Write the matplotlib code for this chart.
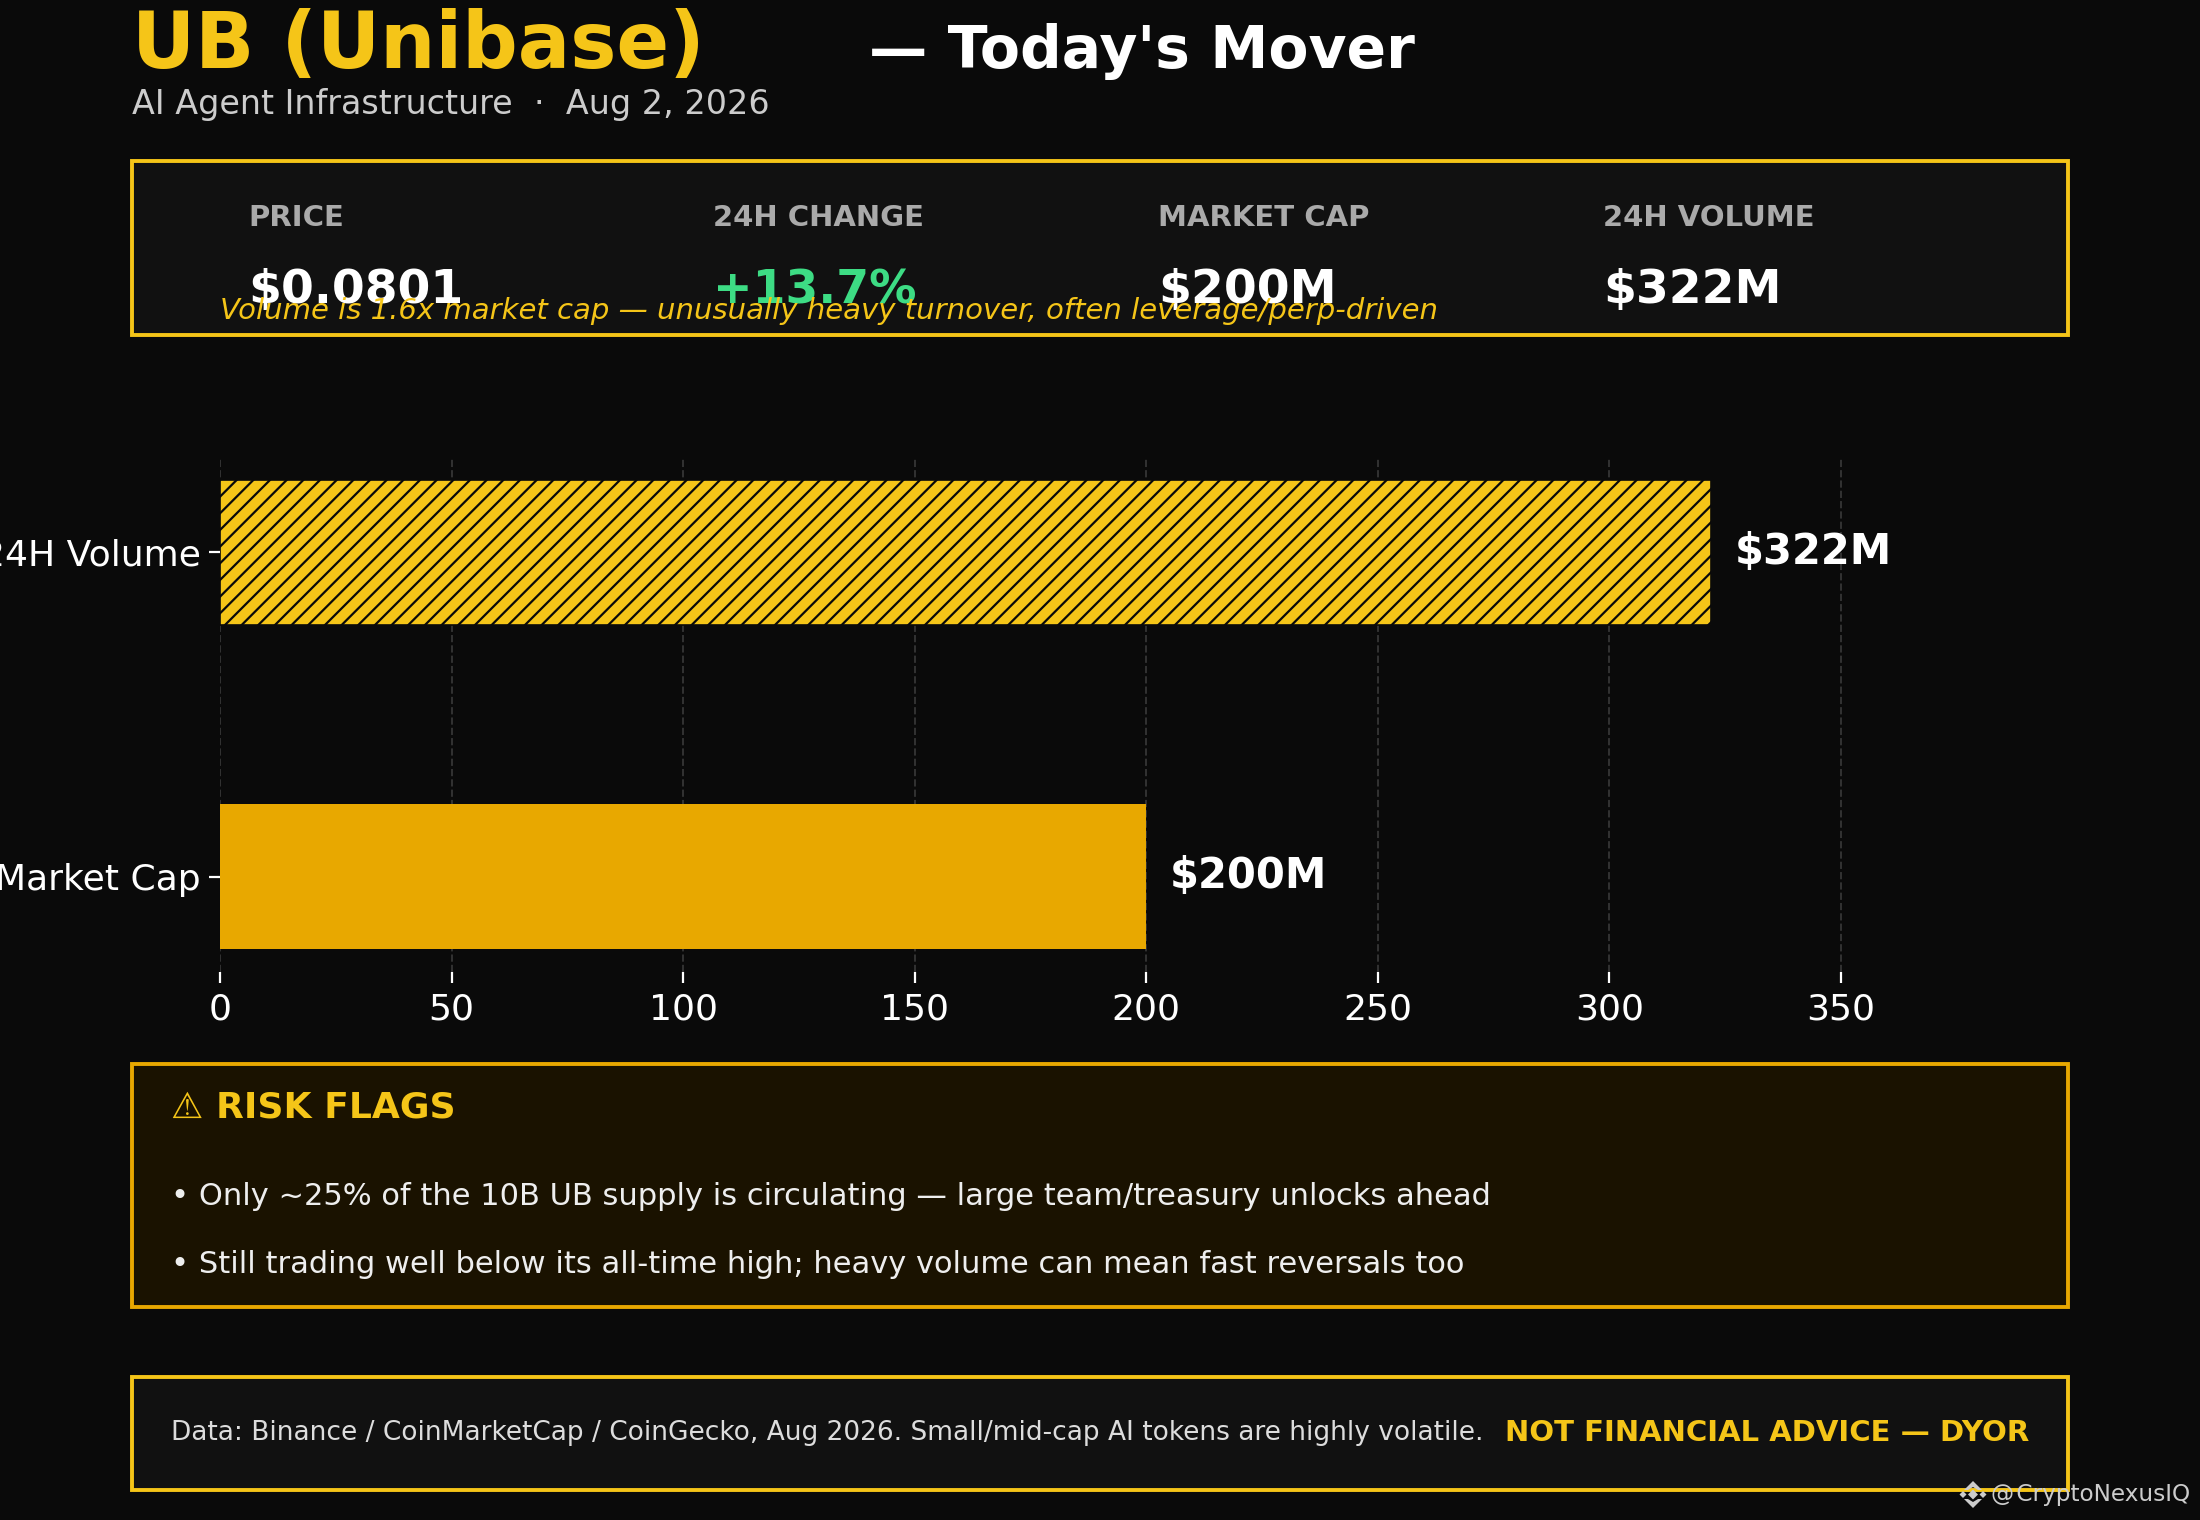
import matplotlib
matplotlib.use("Agg")
import matplotlib.pyplot as plt
from matplotlib.patches import Rectangle, Polygon

W, H = 2200, 1520
BG = "#0a0a0a"; PANEL = "#111111"; RISK = "#1a1200"
YEL = "#f5c518"; ORG = "#e8a800"; GREEN = "#3ddc84"

categories = ["Market Cap", "24H Volume"]
values = [200, 322]
value_labels = ["$200M", "$322M"]
bar_colors = [ORG, YEL]
hatches = ["", "////"]
xticks = [0, 50, 100, 150, 200, 250, 300, 350]

stat_heads = ["PRICE", "24H CHANGE", "MARKET CAP", "24H VOLUME"]
stat_values = ["$0.0801", "+13.7%", "$200M", "$322M"]
stat_colors = ["white", GREEN, "white", "white"]
stat_x = [248.5, 713, 1158, 1603]

plt.rcParams["hatch.linewidth"] = 0.8
fig = plt.figure(figsize=(11, 7.6), dpi=200, facecolor=BG)

bg = fig.add_axes([0, 0, 1, 1], zorder=0)
bg.set_xlim(0, W); bg.set_ylim(H, 0); bg.axis("off")

ax = fig.add_axes([220 / W, 1 - 972 / H, (2068 - 220) / W, (972 - 457) / H], zorder=1)
ax.set_facecolor("none")
for y, (v, c, h) in enumerate(zip(values, bar_colors, hatches)):
    ax.barh(y, v, height=0.445, color=c, hatch=h, edgecolor=BG if h else c, linewidth=0.6 if h else 0)
    ax.text(v + 5.0, y + 0.002, value_labels[y], color="white", fontsize=15, fontweight="bold", va="center", ha="left")
ax.set_yticks(range(len(categories)), categories)
ax.set_xticks(xticks)
ax.set_xlim(0, 399)
ax.tick_params(axis="both", colors="white", labelsize=13, length=4, width=0.8)
ax.tick_params(axis="y", pad=3)
ax.grid(axis="x", color="#333333", linestyle="--", linewidth=0.7)
ax.set_axisbelow(True)
for s in ax.spines.values():
    s.set_visible(False)

top = fig.add_axes([0, 0, 1, 1], zorder=2)
top.set_xlim(0, W); top.set_ylim(H, 0); top.axis("off"); top.patch.set_alpha(0)

def box(x0, y0, x1, y1, fc, ec):
    bg.add_patch(Rectangle((x0, y0), x1 - x0, y1 - y0, facecolor=fc, edgecolor=ec, linewidth=1.4))

box(132.2, 160.6, 2068.2, 334.6, PANEL, YEL)
box(132.2, 1064, 2068.2, 1306.8, RISK, ORG)
box(132.2, 1376.8, 2068.2, 1490, PANEL, YEL)

def t(x, y, s, **kw):
    kw.setdefault("va", "baseline")
    top.text(x, y, s, **kw)

t(132, 68, "UB (Unibase)", color=YEL, fontsize=28, fontweight="bold")
t(869, 68, "— Today's Mover", color="white", fontsize=21, fontweight="bold")
t(132, 114, "AI Agent Infrastructure  ·  Aug 2, 2026", color="#cccccc", fontsize=12)

for x, a, b, c in zip(stat_x, stat_heads, stat_values, stat_colors):
    t(x, 226, a, color="#aaaaaa", fontsize=10.5, fontweight="bold")
    t(x, 303, b, color=c, fontsize=17, fontweight="bold")
t(220, 319, "Volume is 1.6x market cap — unusually heavy turnover, often leverage/perp-driven",
  color=YEL, fontsize=10.5, fontstyle="italic")

t(171, 1118, "⚠ RISK FLAGS", color=YEL, fontsize=13, fontweight="bold")
t(171, 1205, "• Only ~25% of the 10B UB supply is circulating — large team/treasury unlocks ahead", color="#eeeeee", fontsize=11)
t(171, 1273, "• Still trading well below its all-time high; heavy volume can mean fast reversals too", color="#eeeeee", fontsize=11)

t(171, 1440, "Data: Binance / CoinMarketCap / CoinGecko, Aug 2026. Small/mid-cap AI tokens are highly volatile.", color="#dddddd", fontsize=9.5)
t(2029, 1441, "NOT FINANCIAL ADVICE — DYOR", color=YEL, fontsize=10.5, fontweight="bold", ha="right")

t(1991, 1501, "@\u200aCryptoNexusIQ", color="#cccccc", fontsize=8.35)
# small diamond logo beside the watermark
cx, cy = 1973, 1494.5
LOGO = "#cccccc"
for dx, dy, r in [(0, 0, 5), (-10, 0, 3.5), (10, 0, 3.5)]:
    top.add_patch(Polygon([(cx + dx - r, cy + dy), (cx + dx, cy + dy - r), (cx + dx + r, cy + dy), (cx + dx, cy + dy + r)], color=LOGO, lw=0))
top.add_patch(Polygon([(cx, cy - 13.5), (cx + 9, cy - 4.5), (cx + 5, cy - 4.5), (cx, cy - 7.5), (cx - 5, cy - 4.5), (cx - 9, cy - 4.5)], color=LOGO, lw=0))
top.add_patch(Polygon([(cx, cy + 13.5), (cx + 9, cy + 4.5), (cx + 5, cy + 4.5), (cx, cy + 7.5), (cx - 5, cy + 4.5), (cx - 9, cy + 4.5)], color=LOGO, lw=0))

fig.savefig("out.png", dpi=200, facecolor=BG)
